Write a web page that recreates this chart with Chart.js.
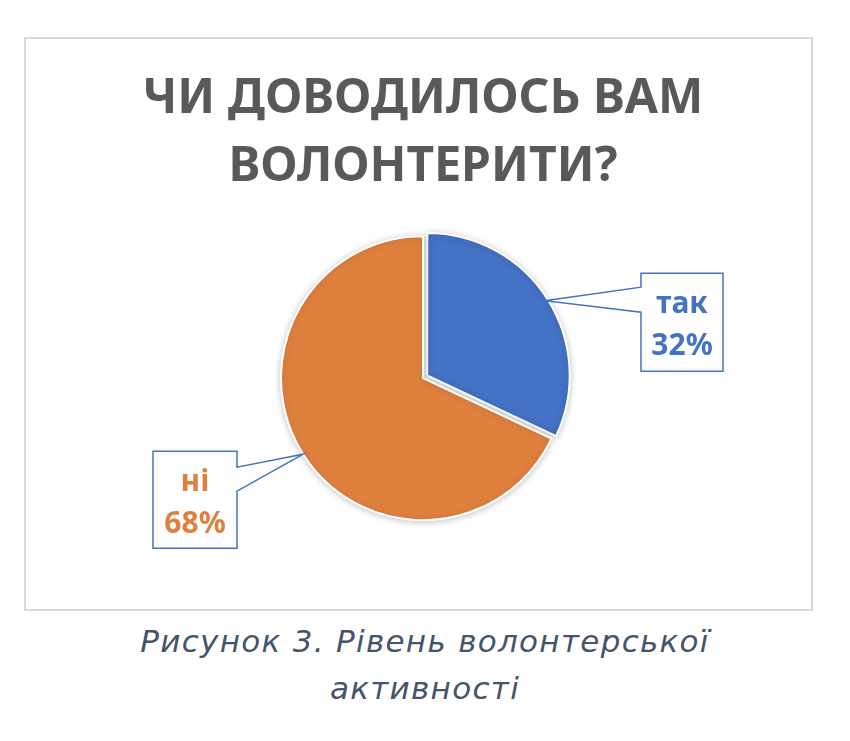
<!DOCTYPE html>
<html>
<head>
<meta charset="utf-8">
<script src="https://cdn.jsdelivr.net/npm/chart.js@4"></script>
<style>
  body { margin: 0; background: #fff; width: 850px; height: 741px; overflow: hidden; font-family: "Noto Sans", sans-serif; }
  .frame { position: absolute; left: 24px; top: 37px; width: 785px; height: 570px; border: 2px solid #d9d9d9; }
  canvas { display: block; }
  .caption { position: absolute; left: 0; top: 618px; width: 850px; text-align: center; font-family: "DejaVu Sans", sans-serif; font-style: italic; color: #44546a; font-size: 31px; line-height: 47px; letter-spacing: 1.3px; }
</style>
</head>
<body>
<div class="frame"><canvas id="volChart" width="785" height="570"></canvas></div>
<div class="caption">Рисунок 3. Рівень волонтерської<br>активності</div>

<script>
// ================= DATA =================
const categories = ["так", "ні"];
const shares = [32, 68];
const sliceColors = ["#4472c4", "#e0803f"];
const titleLines = ["ЧИ ДОВОДИЛОСЬ ВАМ", "ВОЛОНТЕРИТИ?"];

// callout boxes, placed relative to the pie centre
const boxes = [
  { dx: 218, dy: -105, w: 82, h: 98, side: "left", p1: 14, p2: 39 },
  { dx: -270, dy: 73, w: 84, h: 97, side: "right", p1: 16, p2: 40 }
];

// ================= CALLOUT LABELS =================
const callouts = {
  id: "callouts",
  afterDatasetsDraw(chart) {
    const ctx = chart.ctx;
    const meta = chart.getDatasetMeta(0);
    const values = chart.data.datasets[0].data;

    meta.data.forEach((arc, i) => {
      const p = arc.getProps(["x", "y", "startAngle", "endAngle", "outerRadius"], true);
      const mid = (p.startAngle + p.endAngle) / 2;
      const shift = (arc.options.offset || 0) / 8;
      const tx = p.x + Math.cos(mid) * (p.outerRadius + shift);
      const ty = p.y + Math.sin(mid) * (p.outerRadius + shift);

      const b = boxes[i];
      const left = p.x + b.dx;
      const top = p.y + b.dy;
      const right = left + b.w;
      const bottom = top + b.h;

      ctx.save();
      ctx.beginPath();
      if (b.side === "left") {
        ctx.moveTo(left, top);
        ctx.lineTo(right, top);
        ctx.lineTo(right, bottom);
        ctx.lineTo(left, bottom);
        ctx.lineTo(left, top + b.p2);
        ctx.lineTo(tx, ty);
        ctx.lineTo(left, top + b.p1);
      } else {
        ctx.moveTo(left, top);
        ctx.lineTo(right, top);
        ctx.lineTo(right, top + b.p1);
        ctx.lineTo(tx, ty);
        ctx.lineTo(right, top + b.p2);
        ctx.lineTo(right, bottom);
        ctx.lineTo(left, bottom);
      }
      ctx.closePath();
      ctx.fillStyle = "#fff";
      ctx.fill();
      ctx.lineWidth = 1.5;
      ctx.strokeStyle = "#4472c4";
      ctx.stroke();

      ctx.fillStyle = sliceColors[i];
      ctx.font = "bold 30px 'Noto Sans', sans-serif";
      ctx.textAlign = "center";
      ctx.textBaseline = "alphabetic";
      const cx = left + b.w / 2;
      ctx.fillText(chart.data.labels[i], cx, top + 40);
      ctx.fillText(values[i] + "%", cx, top + 82);
      ctx.restore();
    });
  }
};

// soft shadow under the pie
const pieShadow = {
  id: "pieShadow",
  beforeDatasetsDraw(chart) {
    const ctx = chart.ctx;
    ctx.save();
    ctx.shadowColor = "rgba(0,0,0,0.22)";
    ctx.shadowBlur = 7;
    ctx.shadowOffsetY = 1;
  },
  afterDatasetsDraw(chart) {
    chart.ctx.restore();
  }
};

// ================= CHART =================
const canvas = document.getElementById("volChart");

new Chart(canvas.getContext("2d"), {
  type: "pie",
  data: {
    labels: categories,
    datasets: [{
      data: shares,
      backgroundColor: sliceColors,
      borderColor: "#ffffff",
      borderWidth: 2,
      offset: [20, 0],
      radius: 142
    }]
  },
  options: {
    responsive: false,
    animation: false,
    layout: {
      padding: { left: 9, right: 0, top: 0, bottom: 66 }
    },
    plugins: {
      legend: { display: false },
      tooltip: { enabled: false },
      title: {
        display: true,
        text: titleLines,
        color: "#595959",
        font: { family: "'Noto Sans', sans-serif", size: 48, weight: "bold", lineHeight: 1.42 },
        padding: { top: 26, bottom: 12 }
      }
    }
  },
  plugins: [pieShadow, callouts]
});
</script>
</body>
</html>
